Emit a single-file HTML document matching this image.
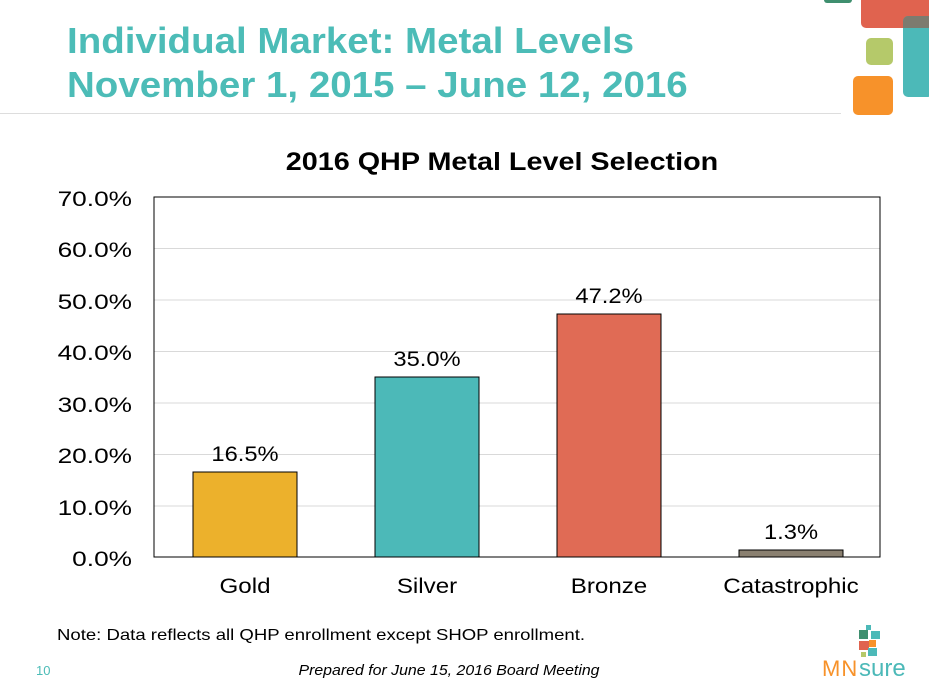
<!DOCTYPE html>
<html><head><style>
body{margin:0;width:929px;height:686px;background:#fff;position:relative;overflow:hidden;font-family:"Liberation Sans",sans-serif}
.a{position:absolute}
</style></head><body>
<div class="a" style="left:824px;top:-6px;width:28px;height:9px;background:#3f8f6f;border-radius:3px"></div>
<div class="a" style="left:861px;top:-6px;width:80px;height:34px;background:#e0634f;border-radius:5px"></div>
<div class="a" style="left:903px;top:16px;width:30px;height:81px;background:#4cb9b8;border-radius:5px"></div>
<div class="a" style="left:903px;top:16px;width:30px;height:12px;background:#7d7b6f;border-radius:5px 0 0 0"></div>
<div class="a" style="left:866px;top:38px;width:27px;height:27px;background:#b5c96a;border-radius:5px"></div>
<div class="a" style="left:853px;top:76px;width:40px;height:39px;background:#f7922a;border-radius:5px"></div>
<div class="a" style="left:0;top:113px;width:841px;height:1px;background:#ddd"></div>
<svg class="a" style="left:0;top:0" width="929" height="686" font-family="Liberation Sans">
<g fill="#4cbcb7" font-size="36" font-weight="bold">
<text transform="translate(67,53) scale(1.07,1)">Individual Market: Metal Levels</text>
<text transform="translate(67,97) scale(1.07,1)">November 1, 2015 – June 12, 2016</text>
</g>
<text transform="translate(502,170) scale(1.15,1)" text-anchor="middle" font-size="25" font-weight="bold">2016 QHP Metal Level Selection</text>
<g stroke="#d9d9d9" stroke-width="1">
<line x1="154" x2="880" y1="248.5" y2="248.5"/><line x1="154" x2="880" y1="300" y2="300"/><line x1="154" x2="880" y1="351.5" y2="351.5"/><line x1="154" x2="880" y1="403" y2="403"/><line x1="154" x2="880" y1="454.5" y2="454.5"/><line x1="154" x2="880" y1="506" y2="506"/>
</g>
<rect x="154" y="197" width="726" height="360" fill="none" stroke="#000"/>
<g stroke="#000" stroke-width="1">
<rect x="193" y="472" width="104" height="85" fill="#ecb12c"/>
<rect x="375" y="377" width="104" height="180" fill="#4cb9b8"/>
<rect x="557" y="314" width="104" height="243" fill="#e06b55"/>
<rect x="739" y="550" width="104" height="7" fill="#8a8070"/>
</g>
<g font-size="21" text-anchor="end">
<text transform="translate(132,206) scale(1.25,1)">70.0%</text>
<text transform="translate(132,257) scale(1.25,1)">60.0%</text>
<text transform="translate(132,309) scale(1.25,1)">50.0%</text>
<text transform="translate(132,360) scale(1.25,1)">40.0%</text>
<text transform="translate(132,412) scale(1.25,1)">30.0%</text>
<text transform="translate(132,463) scale(1.25,1)">20.0%</text>
<text transform="translate(132,515) scale(1.25,1)">10.0%</text>
<text transform="translate(132,566) scale(1.25,1)">0.0%</text>
</g>
<g font-size="21" text-anchor="middle">
<text transform="translate(245,461) scale(1.13,1)">16.5%</text>
<text transform="translate(427,366) scale(1.13,1)">35.0%</text>
<text transform="translate(609,303) scale(1.13,1)">47.2%</text>
<text transform="translate(791,539) scale(1.13,1)">1.3%</text>
<text transform="translate(245,593) scale(1.15,1)">Gold</text>
<text transform="translate(427,593) scale(1.15,1)">Silver</text>
<text transform="translate(609,593) scale(1.15,1)">Bronze</text>
<text transform="translate(791,593) scale(1.15,1)">Catastrophic</text>
</g>
<text transform="translate(57,640) scale(1.16,1)" font-size="16">Note: Data reflects all QHP enrollment except SHOP enrollment.</text>
<text x="36" y="675" font-size="13" fill="#4cbcb7">10</text>
<text transform="translate(449,675) scale(1.06,1)" text-anchor="middle" font-size="15" font-style="italic">Prepared for June 15, 2016 Board Meeting</text>
<rect x="866" y="625" width="5" height="5" fill="#4cb9b8"/>
<rect x="859" y="630" width="9" height="9" fill="#3f8f6f"/>
<rect x="871" y="631" width="9" height="8" fill="#4cb9b8"/>
<rect x="859" y="641" width="10" height="9" fill="#e0634f"/>
<rect x="869" y="640" width="7" height="7" fill="#f7922a"/>
<rect x="868" y="648" width="9" height="8" fill="#4cb9b8"/>
<rect x="861" y="652" width="5" height="5" fill="#b5c96a"/>
<text x="822" y="676" font-size="22" fill="#f7922a" letter-spacing="1">MN</text>
<text x="859" y="676" font-size="24" fill="#4cb9b8">sure</text>
</svg>
</body></html>
